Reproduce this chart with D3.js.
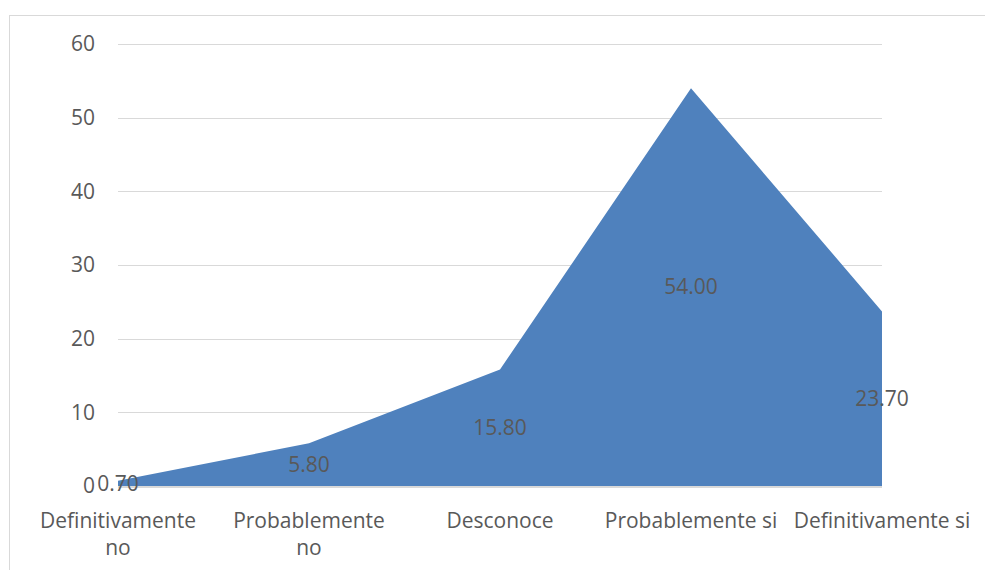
<!DOCTYPE html>
<html>
<head>
<meta charset="utf-8">
<script src="https://cdn.jsdelivr.net/npm/d3@7"></script>
<style>
  html, body { margin: 0; padding: 0; background: #fff; }
  svg { display: block; }
  text { font-family: "Open Sans", "Liberation Sans", sans-serif; fill: #595959; }
</style>
</head>
<body>
<svg id="chart" width="985" height="570"></svg>
<script>
const categories = ["Definitivamente|no", "Probablemente|no", "Desconoce", "Probablemente si", "Definitivamente si"];
const values = [0.70, 5.80, 15.80, 54.00, 23.70];
const yTicks = [0, 10, 20, 30, 40, 50, 60];

const svg = d3.select("#chart");
const plotL = 118, plotR = 882, plotT = 44, plotB = 486;
const FS = "21px";

// outer frame
svg.append("rect").attr("x", 9.5).attr("y", 15.5).attr("width", 1100).attr("height", 700)
  .attr("fill", "none").attr("stroke", "#d9d9d9").attr("stroke-width", 1);

const x = d3.scalePoint().domain(categories).range([plotL, plotR]);
const y = d3.scaleLinear().domain([0, 60]).range([plotB, plotT]);

// gridlines
svg.append("g").selectAll("line").data(yTicks.filter(t => t > 0)).join("line")
  .attr("x1", plotL).attr("x2", plotR)
  .attr("y1", d => Math.round(y(d)) + 0.5).attr("y2", d => Math.round(y(d)) + 0.5)
  .attr("stroke", "#d9d9d9").attr("stroke-width", 1);

// y axis labels
const yAxis = d3.axisLeft(y).tickValues(yTicks).tickSize(0).tickPadding(23).tickFormat(d3.format("d"));
const gy = svg.append("g").attr("transform", `translate(${plotL},0)`).call(yAxis);
gy.select(".domain").remove();
gy.selectAll("text").style("font-size", FS).attr("fill", "#595959")
  .style("font-family", '"Open Sans", "Liberation Sans", sans-serif');

// area
const area = d3.area().x((d, i) => x(categories[i])).y0(y(0)).y1(d => y(d));
svg.append("path").datum(values).attr("d", area).attr("fill", "#4F81BD");

// x axis baseline
svg.append("line").attr("x1", plotL).attr("x2", plotR).attr("y1", plotB + 1).attr("y2", plotB + 1)
  .attr("stroke", "#d9d9d9").attr("stroke-width", 2);

// category labels
const gx = svg.append("g");
categories.forEach(c => {
  const lines = c.split("|");
  const t = gx.append("text").attr("x", x(c)).attr("y", 528)
    .attr("text-anchor", "middle").style("font-size", FS);
  lines.forEach((ln, i) => {
    t.append("tspan").attr("x", x(c)).attr("dy", i === 0 ? 0 : 27).text(ln);
  });
});

// data labels (centered at half value)
svg.append("g").selectAll("text").data(values).join("text")
  .attr("x", (d, i) => x(categories[i]))
  .attr("y", d => y(d / 2))
  .attr("dy", "0.35em")
  .attr("text-anchor", "middle")
  .style("font-size", FS)
  .attr("fill", "#404040")
  .text(d => d3.format(".2f")(d));
</script>
</body>
</html>
